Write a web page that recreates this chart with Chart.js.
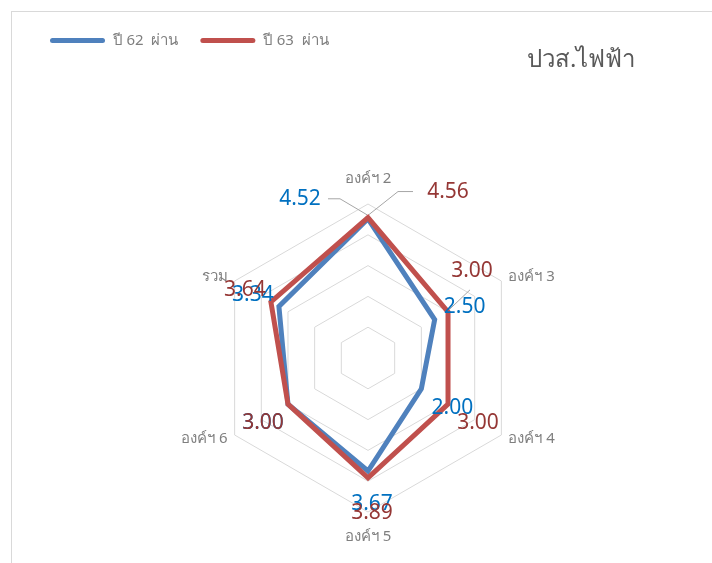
<!DOCTYPE html>
<html>
<head>
<meta charset="utf-8">
<script src="https://cdn.jsdelivr.net/npm/chart.js@4.4.1/dist/chart.umd.min.js"></script>
<style>
  html, body { margin: 0; padding: 0; background: #fff; overflow: hidden; }
  #frame { position: absolute; left: 11px; top: 11px; width: 760px; height: 600px; border: 1px solid #d9d9d9; }
  #wrap { position: absolute; left: 0; top: 0; width: 712px; height: 563px; }
  #title { position: absolute; left: 527px; top: 39px; font: 24px "Noto Sans", sans-serif; color: #595959; white-space: nowrap; }
</style>
</head>
<body>
<div id="frame"></div>
<div id="wrap"><canvas id="chart" width="712" height="563"></canvas></div>
<div id="title">ปวส.ไฟฟ้า</div>
<script>
// data
const categories = ["องค์ฯ 2", "องค์ฯ 3", "องค์ฯ 4", "องค์ฯ 5", "องค์ฯ 6", "รวม"];
const seriesNames = ["ปี 62  ผ่าน", "ปี 63  ผ่าน"];
const pass62 = [4.52, 2.50, 2.00, 3.67, 3.00, 3.34];
const pass63 = [4.56, 3.00, 3.00, 3.89, 3.00, 3.64];
const scaleMin = 0;
const scaleMax = 5;
const scaleStep = 1;

const FONT = '"Noto Sans", "Open Sans", sans-serif';
const lineColors = ["#4F81BD", "#C0504D"];
const valueColors = ["#0070C0", "#953735"];

// where each value label sits, relative to its point
const labelOffsets = [
  [[-68, -20], [30, -12], [31, 19], [4, 33], [-25, 19], [-26, -12]],
  [[80, -26], [24, -41], [30, 19], [4, 35], [-25, 19], [-26, -12]]
];
// leader lines (relative to the point)
const leaders = [
  { ds: 0, i: 0, pts: [[-40, -20], [-28, -20], [-1, -4]] },
  { ds: 1, i: 0, pts: [[45, -26], [30, -26], [1, -3]] },
  { ds: 1, i: 1, pts: [[22, -22], [1, -2]] }
];

// pin the radar to the same spot as the original
const fixedRadar = {
  id: "fixedRadar",
  afterLayout(chart) {
    const r = chart.scales.r;
    r.xCenter = 368;
    r.yCenter = 358;
    r.drawingArea = 154;
  }
};

const pointLabels = {
  id: "pointLabels",
  afterDraw(chart) {
    const r = chart.scales.r;
    const ctx = chart.ctx;
    ctx.save();
    ctx.font = "15px " + FONT;
    ctx.fillStyle = "#7F7F7F";
    ctx.textBaseline = "middle";
    categories.forEach((c, i) => {
      const p = r.getPointPosition(i, r.drawingArea + 8);
      let y = p.y;
      if (Math.abs(p.x - r.xCenter) < 1) {
        ctx.textAlign = "center";
        y += p.y < r.yCenter ? -17 : 17;
      } else {
        ctx.textAlign = p.x > r.xCenter ? "left" : "right";
      }
      ctx.fillText(c, p.x, y);
    });
    ctx.restore();
  }
};

const valueLabels = {
  id: "valueLabels",
  afterDatasetsDraw(chart) {
    const ctx = chart.ctx;
    ctx.save();
    ctx.strokeStyle = "#A6A6A6";
    ctx.lineWidth = 1;
    leaders.forEach(l => {
      const el = chart.getDatasetMeta(l.ds).data[l.i];
      ctx.beginPath();
      l.pts.forEach((q, k) => {
        if (k === 0) ctx.moveTo(el.x + q[0], el.y + q[1]);
        else ctx.lineTo(el.x + q[0], el.y + q[1]);
      });
      ctx.stroke();
    });
    ctx.font = "21px " + FONT;
    ctx.textAlign = "center";
    ctx.textBaseline = "middle";
    chart.data.datasets.forEach((ds, d) => {
      const meta = chart.getDatasetMeta(d);
      ctx.fillStyle = valueColors[d];
      ds.data.forEach((v, i) => {
        const el = meta.data[i];
        const o = labelOffsets[d][i];
        ctx.fillText(v.toFixed(2), el.x + o[0], el.y + o[1]);
      });
    });
    ctx.restore();
  }
};

new Chart(document.getElementById("chart"), {
  type: "radar",
  data: {
    labels: categories,
    datasets: [
      { label: seriesNames[0], data: pass62, order: 1 },
      { label: seriesNames[1], data: pass63, order: 0 }
    ].map((ds, k) => Object.assign(ds, {
      borderColor: lineColors[k],
      backgroundColor: lineColors[k],
      borderWidth: 5,
      fill: false,
      pointRadius: 0,
      pointHoverRadius: 0
    }))
  },
  options: {
    responsive: false,
    animation: false,
    layout: { padding: { left: 28, top: 11 } },
    scales: {
      r: {
        min: scaleMin,
        max: scaleMax,
        ticks: { display: false, stepSize: scaleStep },
        grid: { color: "#D9D9D9", lineWidth: 1 },
        angleLines: { display: false },
        pointLabels: { display: false }
      }
    },
    plugins: {
      tooltip: { enabled: false },
      legend: {
        position: "top",
        align: "start",
        labels: {
          boxWidth: 55,
          boxHeight: 5,
          padding: 22,
          color: "#7F7F7F",
          font: { size: 15, family: FONT },
          useBorderRadius: true,
          borderRadius: 2.5,
          sort: (a, b) => a.datasetIndex - b.datasetIndex,
          generateLabels(chart) {
            const items = Chart.defaults.plugins.legend.labels.generateLabels(chart);
            items.forEach(it => { it.fillStyle = it.strokeStyle; it.lineWidth = 0; });
            return items;
          }
        }
      }
    }
  },
  plugins: [fixedRadar, pointLabels, valueLabels]
});
</script>
</body>
</html>
